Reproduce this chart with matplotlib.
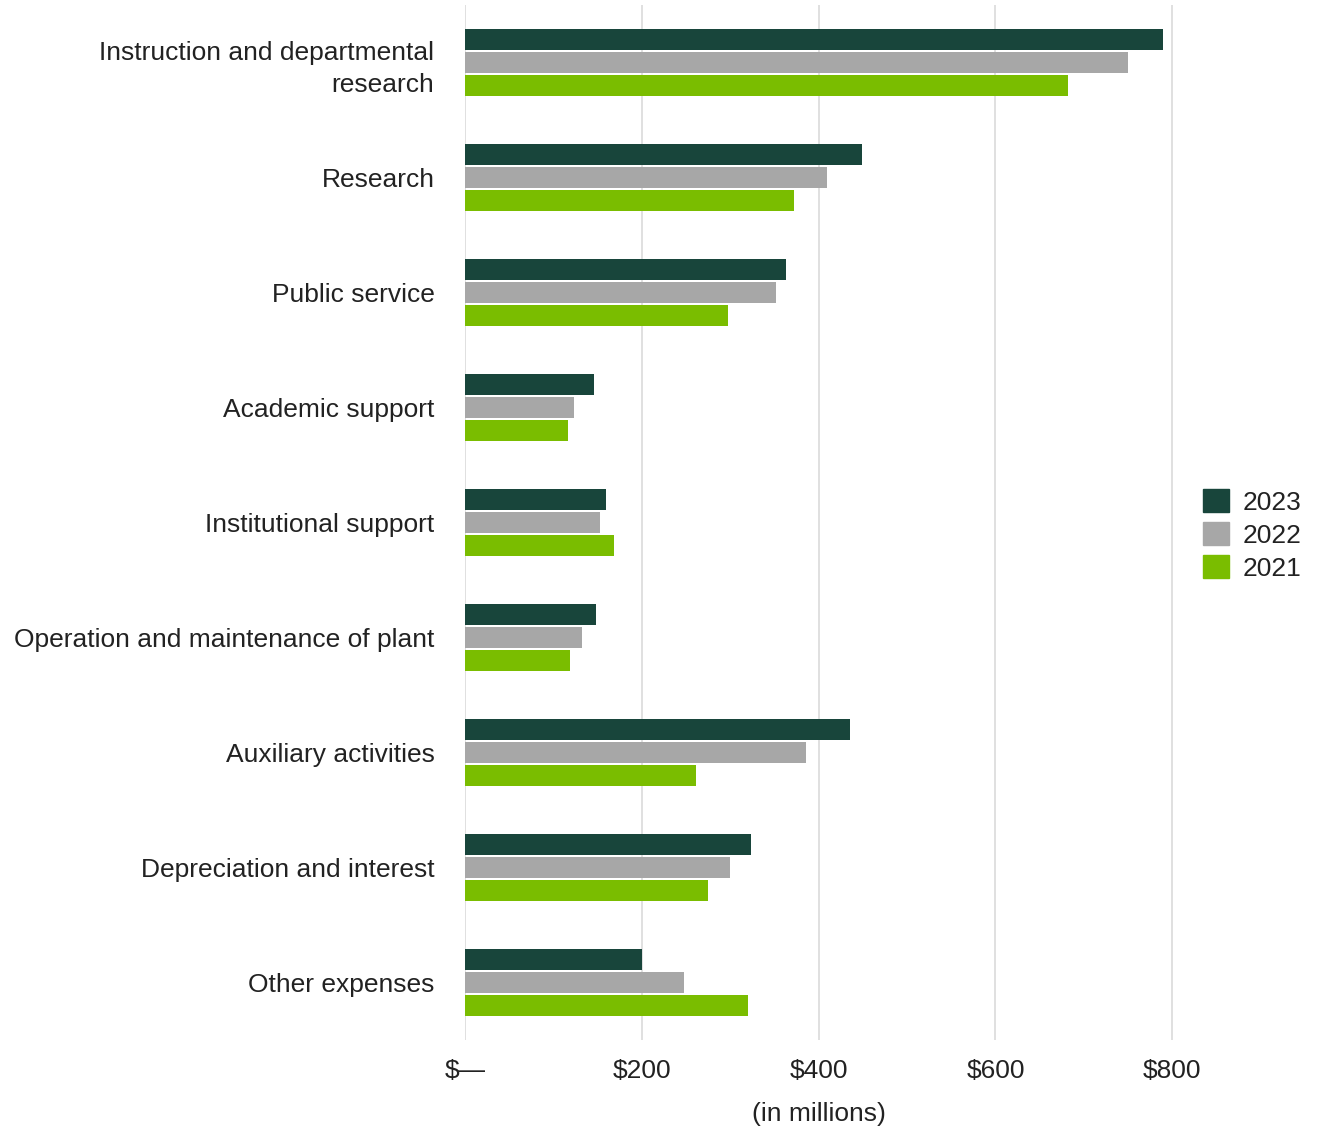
import matplotlib.pyplot as plt
import numpy as np
from matplotlib.patches import Patch

plt.rcParams['font.family'] = ['Liberation Sans', 'DejaVu Sans']

categories = ["Instruction and departmental\nresearch", "Research", "Public service",
              "Academic support", "Institutional support",
              "Operation and maintenance of plant", "Auxiliary activities",
              "Depreciation and interest", "Other expenses"]
years = ["2023", "2022", "2021"]
vals_2023 = [789, 449, 363, 146, 160, 148, 436, 323, 200]
vals_2022 = [750, 409, 352, 123, 153, 132, 386, 300, 248]
vals_2021 = [682, 372, 298, 117, 169, 119, 261, 275, 320]
ticks = [0, 200, 400, 600, 800]
tick_labels = ["$\u2014", "$200", "$400", "$600", "$800"]

colors = ["#18453b", "#a7a7a7", "#7abd00"]
fs = 19

fig = plt.figure(figsize=(13.17, 11.28), dpi=100)
ax = fig.add_axes([465 / 1317, 88 / 1128, (1190 - 465) / 1317, 1035 / 1128])

y = np.arange(len(categories))
for i, vals in enumerate([vals_2023, vals_2022, vals_2021]):
    ax.barh(y + (i - 1) * 0.2, vals, height=0.175, color=colors[i], zorder=3)

ax.set_ylim(len(categories) - 0.5, -0.5)
ax.set_xlim(0, 820)
ax.set_yticks(y)
ax.set_yticklabels(categories, fontsize=fs, color="#222222", linespacing=1.4)
ax.set_xticks(ticks)
ax.set_xticklabels(tick_labels, fontsize=fs, color="#222222")
ax.tick_params(axis="both", length=0)
ax.tick_params(axis="x", pad=14)
ax.tick_params(axis="y", pad=22)
ax.grid(axis="x", color="#dddddd", linewidth=1.3, zorder=0)
for s in ax.spines.values():
    s.set_visible(False)
ax.set_xlabel("(in millions)", fontsize=fs, color="#222222")
ax.xaxis.set_label_coords(400 / 820, -0.06)

handles = [Patch(color=c) for c in colors]
fig.legend(handles, years, loc="center left", bbox_to_anchor=(1185 / 1317, 1 - 535 / 1128),
           frameon=False, fontsize=fs, handlelength=0.95, handleheight=0.95,
           handletextpad=0.55, labelspacing=0.28, labelcolor="#222222", borderpad=0.2)

fig.savefig("out.png", dpi=100)
